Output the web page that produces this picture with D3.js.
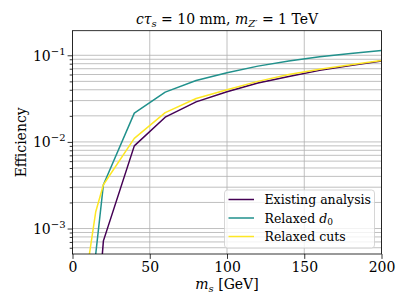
<!DOCTYPE html>
<html>
<head>
<meta charset="utf-8">
<script src="https://cdn.jsdelivr.net/npm/d3@7"></script>
<style>
  body { margin: 0; background: #fff; }
  svg { display: block; font-family: "DejaVu Serif", serif; }
</style>
</head>
<body>
<script>
// valeurs
const massExisting = [15, 20, 40, 60, 80, 100, 120, 140, 160, 180, 200];
const effExisting = [5.5e-5, 7.2e-4, 0.009, 0.0193, 0.029, 0.038, 0.048, 0.057, 0.067, 0.076, 0.086];

const massD0 = [15, 20, 40, 60, 80, 100, 120, 140, 160, 180, 200];
const effD0 = [5.0e-4, 3.2e-3, 0.0215, 0.0376, 0.0511, 0.063, 0.075, 0.086, 0.096, 0.105, 0.1135];

const massCuts = [10, 15, 20, 40, 60, 80, 100, 120, 140, 160, 180, 200];
const effCuts = [3.9e-4, 1.55e-3, 3.2e-3, 0.011, 0.0218, 0.0317, 0.040, 0.050, 0.060, 0.069, 0.078, 0.087];

const xTicks = [0, 50, 100, 150, 200];
const yMajor = [1e-3, 1e-2, 1e-1];
const yMajorLabels = ["−3", "−2", "−1"];

const series = [
    { name: "Existing analysis", color: "#440154", m: massExisting, e: effExisting },
    { name: "Relaxed d0", color: "#21918c", m: massD0, e: effD0 },
    { name: "Relaxed cuts", color: "#fde725", m: massCuts, e: effCuts }
];

const W = 411, H = 308;
const margin = { top: 30.7, right: 29.5, bottom: 54, left: 72.5 };

const svg = d3.select("body").append("svg")
    .attr("width", W)
    .attr("height", H);

const x = d3.scaleLinear()
    .domain([0, 200])
    .range([margin.left, W - margin.right]);

const y = d3.scaleLog()
    .domain([5.08e-4, 0.1923])
    .range([H - margin.bottom, margin.top]);

// ticks mineurs de l'échelle log
let yMinor = [];
[1e-4, 1e-3, 1e-2, 1e-1].forEach(dec => {
    for (let k = 2; k <= 9; k++) {
        const v = dec * k;
        if (v >= y.domain()[0] && v <= y.domain()[1]) yMinor.push(v);
    }
});

// grille
const grid = svg.append("g");
grid.selectAll(".gx").data(xTicks).join("line")
    .attr("x1", d => x(d)).attr("x2", d => x(d))
    .attr("y1", margin.top).attr("y2", H - margin.bottom)
    .attr("stroke", "#b0b0b0").attr("stroke-width", 0.8);
grid.selectAll(".gy").data(yMajor.concat(yMinor)).join("line")
    .attr("x1", margin.left).attr("x2", W - margin.right)
    .attr("y1", d => y(d)).attr("y2", d => y(d))
    .attr("stroke", "#b0b0b0").attr("stroke-width", 0.8);

// courbes
svg.append("clipPath").attr("id", "clip")
    .append("rect")
    .attr("x", margin.left).attr("y", margin.top)
    .attr("width", W - margin.left - margin.right)
    .attr("height", H - margin.top - margin.bottom);

const line = d3.line()
    .x(d => x(d[0]))
    .y(d => y(d[1]));

svg.append("g").attr("clip-path", "url(#clip)")
    .selectAll("path").data(series).join("path")
    .attr("d", s => line(s.m.map((m, i) => [m, s.e[i]])))
    .attr("fill", "none")
    .attr("stroke", s => s.color)
    .attr("stroke-width", 1.5)
    .attr("stroke-linejoin", "round");

// axes
const xAxis = svg.append("g")
    .attr("transform", `translate(0, ${H - margin.bottom})`)
    .call(d3.axisBottom(x).tickValues(xTicks).tickSize(4.9).tickPadding(3.5).tickSizeOuter(0));
xAxis.selectAll("text").attr("font-size", 14).attr("font-family", "DejaVu Serif").attr("fill", "#000");

const yAxis = svg.append("g")
    .attr("transform", `translate(${margin.left}, 0)`)
    .call(d3.axisLeft(y).tickValues(yMajor).tickFormat("").tickSize(4.9).tickSizeOuter(0));
yAxis.selectAll(".tick").each(function (d, i) {
    const t = d3.select(this).append("text")
        .attr("x", -7).attr("y", 5)
        .attr("text-anchor", "end")
        .attr("font-size", 14)
        .attr("font-family", "DejaVu Serif")
        .attr("fill", "#000");
    t.append("tspan").text("10");
    t.append("tspan").attr("dy", -6).attr("font-size", 10).text(yMajorLabels[i]);
});
svg.append("g")
    .attr("transform", `translate(${margin.left}, 0)`)
    .call(d3.axisLeft(y).tickValues(yMinor).tickFormat("").tickSize(2.8).tickSizeOuter(0))
    .select(".domain").remove();

svg.selectAll(".domain").remove();
svg.selectAll(".tick line").attr("stroke", "#000").attr("stroke-width", 0.8);

// cadre
svg.append("rect")
    .attr("x", margin.left).attr("y", margin.top)
    .attr("width", W - margin.left - margin.right)
    .attr("height", H - margin.top - margin.bottom)
    .attr("fill", "none").attr("stroke", "#000").attr("stroke-width", 0.8);

// titres
const title = svg.append("text")
    .attr("x", (margin.left + W - margin.right) / 2).attr("y", 24)
    .attr("text-anchor", "middle").attr("font-size", 14);
title.append("tspan").attr("font-style", "italic").text("cτ");
title.append("tspan").attr("font-style", "italic").attr("font-size", 10).attr("dy", 3).text("s");
title.append("tspan").attr("dy", -3).text(" = 10 mm, ");
title.append("tspan").attr("font-style", "italic").text("m");
title.append("tspan").attr("font-style", "italic").attr("font-size", 10).attr("dy", 3).text("Z′");
title.append("tspan").attr("dy", -3).text(" = 1 TeV");

const xl = svg.append("text")
    .attr("x", (margin.left + W - margin.right) / 2).attr("y", 289)
    .attr("text-anchor", "middle").attr("font-size", 14);
xl.append("tspan").attr("font-style", "italic").text("m");
xl.append("tspan").attr("font-style", "italic").attr("font-size", 10).attr("dy", 3).text("s");
xl.append("tspan").attr("dy", -3).text(" [GeV]");

svg.append("text")
    .attr("transform", `translate(26, ${(margin.top + H - margin.bottom) / 2}) rotate(-90)`)
    .attr("text-anchor", "middle").attr("font-size", 14)
    .text("Efficiency");

// légende
const legend = svg.append("g");
legend.append("rect")
    .attr("x", 224.5).attr("y", 190)
    .attr("width", 150).attr("height", 58)
    .attr("rx", 3)
    .attr("fill", "#fff").attr("fill-opacity", 0.8)
    .attr("stroke", "#cccccc").attr("stroke-width", 0.8);

const items = legend.selectAll(".item").data(series).join("g")
    .attr("transform", (d, i) => `translate(0, ${199.5 + i * 18.5})`);
items.append("line")
    .attr("x1", 228.5).attr("x2", 254)
    .attr("stroke", d => d.color).attr("stroke-width", 1.5);
items.each(function (d) {
    const t = d3.select(this).append("text")
        .attr("x", 264.5).attr("y", 4.5)
        .attr("font-size", 12.5);
    if (d.name === "Relaxed d0") {
        t.append("tspan").text("Relaxed ");
        t.append("tspan").attr("font-style", "italic").text("d");
        t.append("tspan").attr("font-size", 9).attr("dy", 2.5).text("0");
    } else {
        t.text(d.name);
    }
});
</script>
</body>
</html>
